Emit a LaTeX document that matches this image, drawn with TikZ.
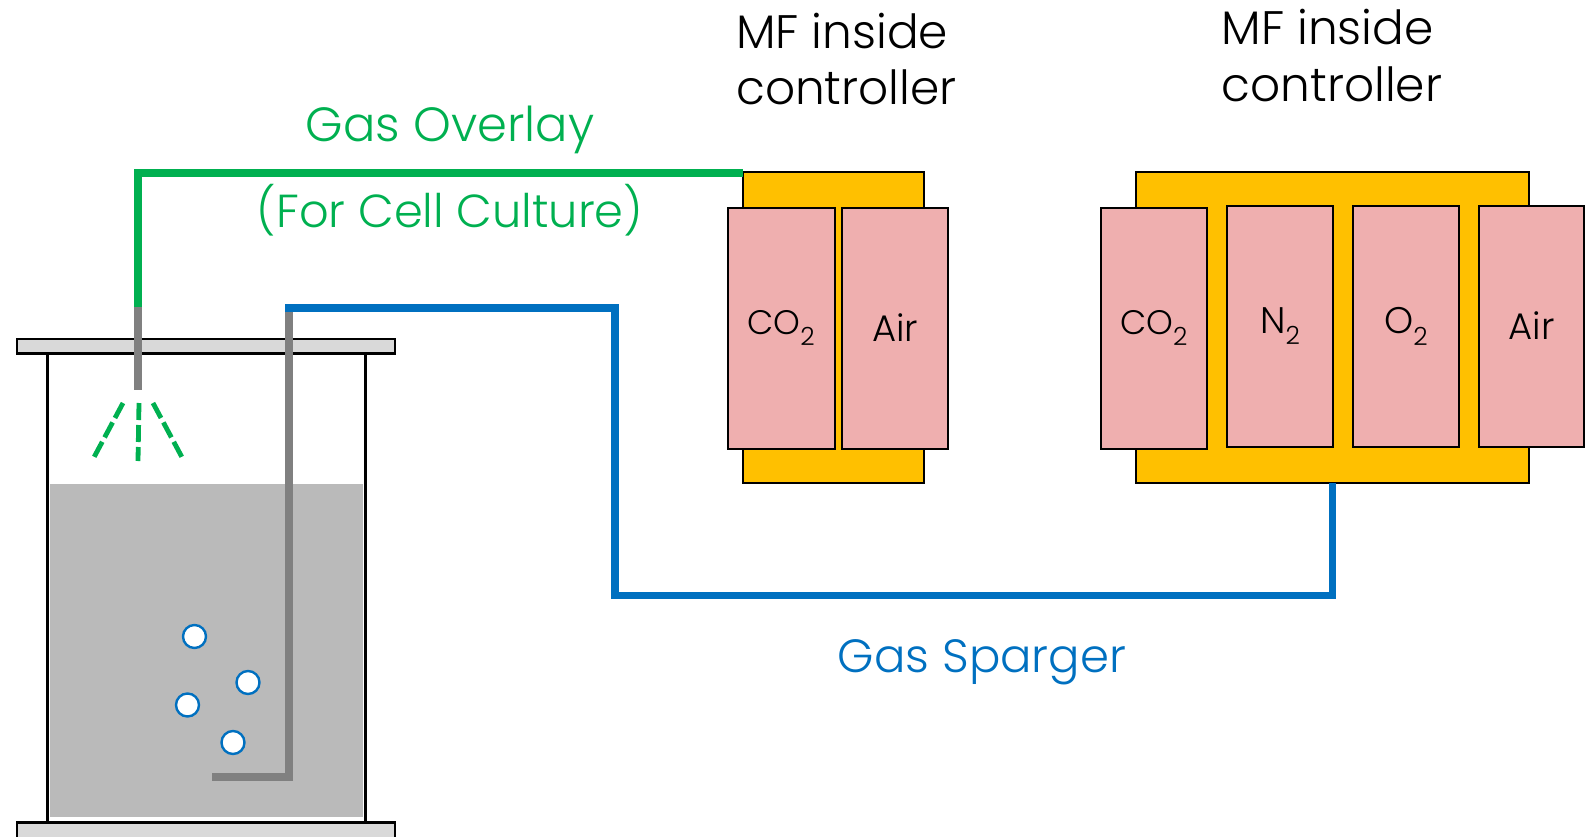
\documentclass[tikz,border=0pt]{standalone}
\usepackage{fontspec}
\setmainfont{Poppins}[UprightFont=* Light]
\usetikzlibrary{calc}
\definecolor{ctrl}{HTML}{FFC000}
\definecolor{mf}{HTML}{EFAFAF}
\definecolor{gasgreen}{HTML}{00B050}
\definecolor{gasblue}{HTML}{0070C0}
\definecolor{tube}{HTML}{808080}
\definecolor{liquid}{HTML}{BABABA}
\definecolor{lid}{HTML}{D9D9D9}
\tikzset{
  px/.style={x=1pt,y=-1pt},
  box/.style={draw=black,line width=2pt,anchor=north west,inner sep=0pt,outer sep=0pt},
  ctrlbox/.style={box,fill=ctrl},
  mfbox/.style={box,fill=mf,font=\fontsize{37}{37}\selectfont,text=black},
  plate/.style={box,fill=lid,line width=2.5pt},
  greenpipe/.style={draw=gasgreen,line width=7.5pt},
  bluepipe/.style={draw=gasblue,line width=7.5pt},
  greytube/.style={draw=tube,line width=8pt},
  spray/.style={draw=gasgreen,line width=4.8pt,dash pattern=on 17pt off 5pt},
  bubble/.style={circle,draw=gasblue,fill=white,line width=2.4pt,minimum size=23pt,inner sep=0pt},
  head/.style={font=\fontsize{47}{56.5}\selectfont,align=left,anchor=base west,inner sep=0pt},
  greenlabel/.style={text=gasgreen,inner sep=0pt,anchor=base},
  bluelabel/.style={font=\fontsize{46.6}{46.6}\selectfont,text=gasblue,inner sep=0pt,anchor=base},
}
\newcommand{\subtwo}[1]{#1\raisebox{-0.32em}{\fontsize{25}{25}\selectfont 2}}
\begin{document}
\begin{tikzpicture}[px]
\useasboundingbox (0,0) rectangle (1588,836);
% vessel
\node[anchor=north west,fill=liquid,minimum width=312.5pt,minimum height=333pt,inner sep=0pt,outer sep=0pt] (liq) at (50.4,483.5) {};
\coordinate (wl1) at (47.6,353); \coordinate (wl2) at (47.6,822);
\coordinate (wr1) at (365.6,353); \coordinate (wr2) at (365.6,822);
\draw[black,line width=2.5pt] (wl1) -- (wl2) (wr1) -- (wr2);
\node[plate,minimum width=378pt,minimum height=14.5pt] (toplid) at (17.2,339) {};
\node[plate,minimum width=378pt,minimum height=30pt] (bottomplate) at (17.2,822.5) {};
% controllers
\node[ctrlbox,minimum width=181.5pt,minimum height=311pt] (c1) at (742.5,172) {};
\node[ctrlbox,minimum width=393.5pt,minimum height=311pt] (c2) at (1135.5,172) {};
\node[mfbox,minimum width=107pt,minimum height=241pt,font=\fontsize{34}{34}\selectfont] (a1) at (727.5,207.5) {\subtwo{CO}};
\node[mfbox,minimum width=106pt,minimum height=241pt] (a2) at (842,207.5) {Air};
\node[mfbox,minimum width=105.5pt,minimum height=241pt,font=\fontsize{34}{34}\selectfont] (b1) at (1101,207.5) {\subtwo{CO}};
\node[mfbox,minimum width=106pt,minimum height=241pt] (b2) at (1227,205.5) {\subtwo{N}};
\node[mfbox,minimum width=106pt,minimum height=241pt] (b3) at (1353,205.5) {\subtwo{O}};
\node[mfbox,minimum width=105pt,minimum height=241pt] (b4) at (1479,205.5) {Air};
% pipes
\coordinate (gs) at (138,307);
\coordinate (gc) at (138,173);
\coordinate (ge) at (c1.north west |- gc);
\coordinate (ts) at (138,390);
\draw[greytube] (gs) -- (ts);
\draw[greenpipe] (gs) -- (gc) -- (ge);
\coordinate (bs) at (285,308);
\coordinate (bc1) at (615,308);
\coordinate (bc2) at (615,595.5);
\coordinate (bc3) at (c2.south |- bc2);
\coordinate (tb) at (289,777);
\coordinate (te) at (212,777);
\draw[greytube] (289,308) -- (tb);
\draw[greytube] (293,777) -- (te);
\draw[bluepipe,line join=miter] (bs) -- (bc1) -- (bc2) -- (bc3) -- (c2.south);
% spray
\coordinate (sl1) at (123,403); \coordinate (sl2) at (92,461);
\coordinate (sc1) at (139,403); \coordinate (sc2) at (138,461);
\coordinate (sr1) at (153,403); \coordinate (sr2) at (184,461);
\draw[spray] (sl1) -- (sl2) (sc1) -- (sc2) (sr1) -- (sr2);
% bubbles
\node[bubble] (p1) at (194.5,636.5) {};
\node[bubble] (p2) at (248,682.5) {};
\node[bubble] (p3) at (187.5,705) {};
\node[bubble] (p4) at (233,742.5) {};
% texts
\node[greenlabel,font=\fontsize{48}{48}\selectfont] (t1) at (450,141) {Gas Overlay};
\node[greenlabel,font=\fontsize{46.3}{46.3}\selectfont] (t2) at (450,227) {(For Cell Culture)};
\node[bluelabel] (t3) at (982,672.5) {Gas Sparger};
\node[head] (h1) at (736,104.5) {MF inside\\controller};
\node[head] (h2) at (1221.5,101) {MF inside\\controller};
\end{tikzpicture}
\end{document}
